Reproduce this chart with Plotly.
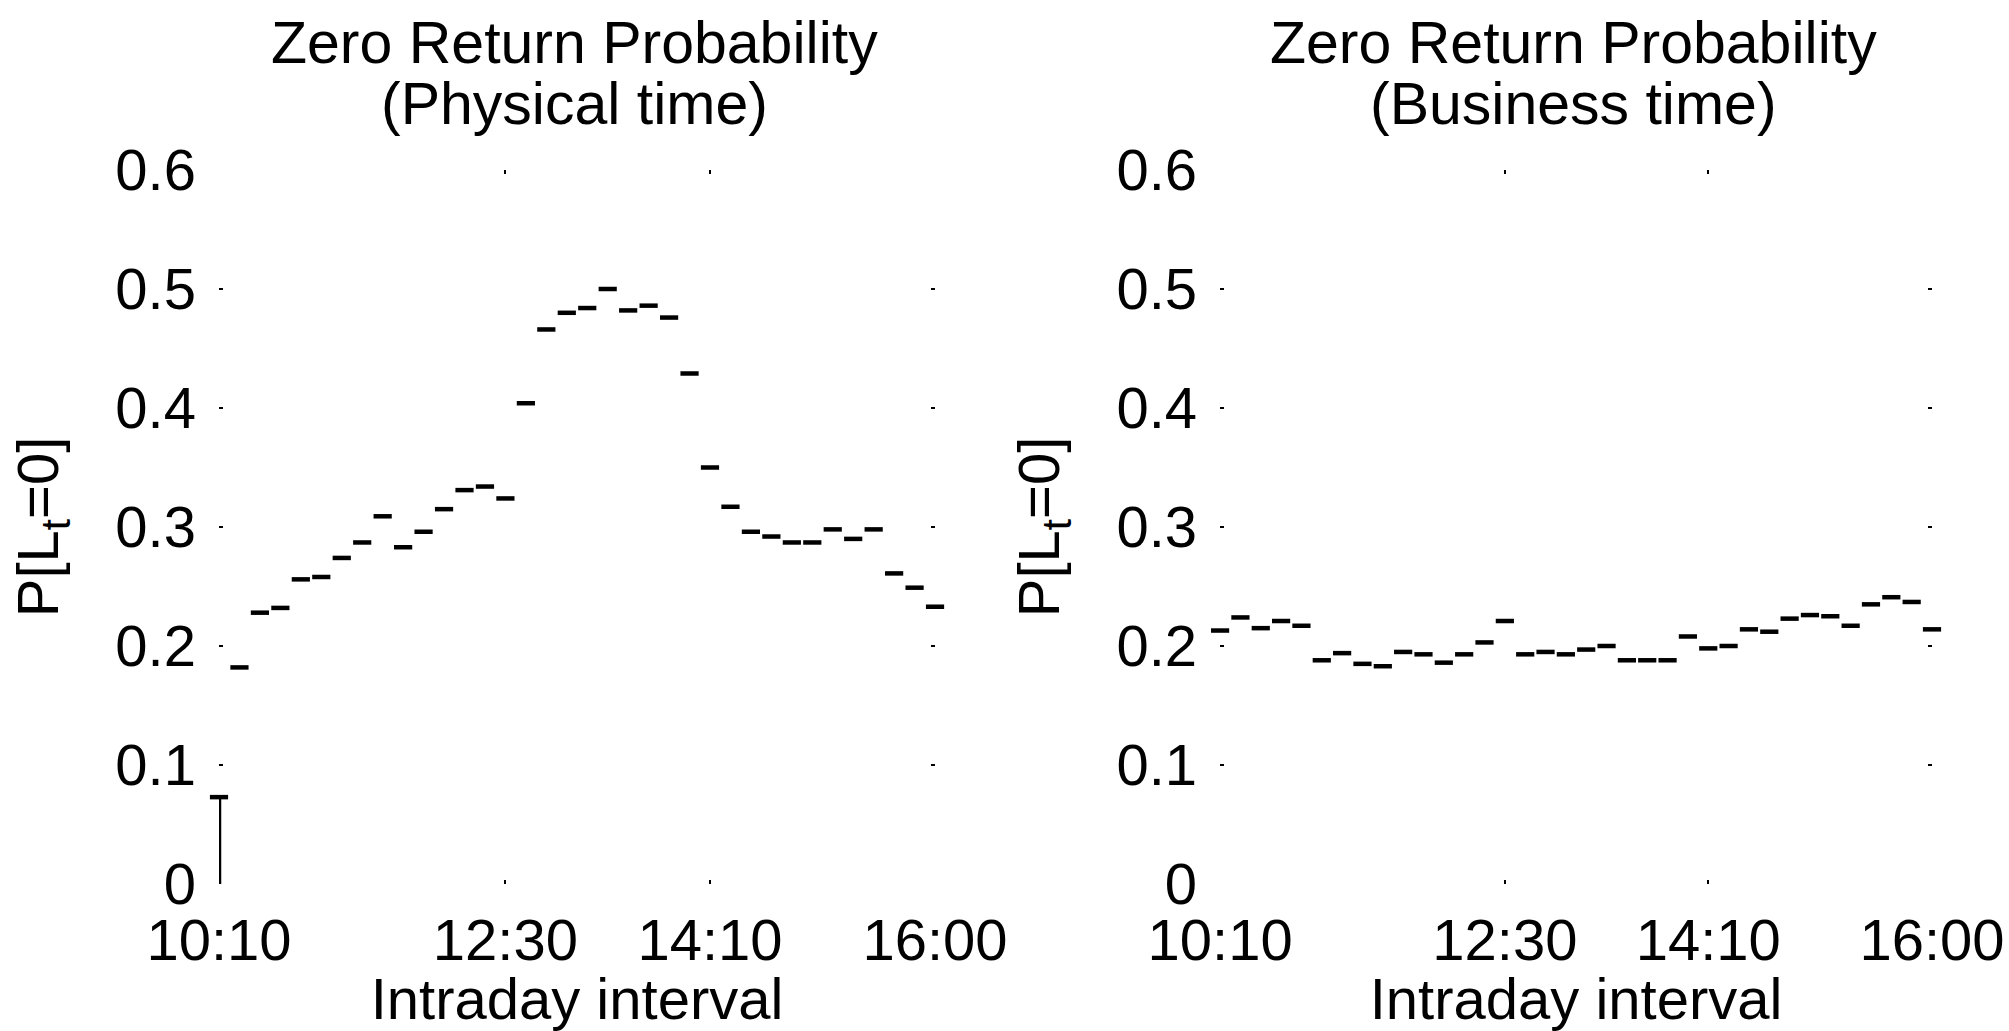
import plotly.graph_objects as go

# minutes after 10:10 for each 10-minute interval (10:10 ... 16:00)
minutes = list(range(0, 360, 10))

physical_prob = [0.073, 0.182, 0.228, 0.232, 0.256, 0.258, 0.274, 0.287, 0.309,
                 0.283, 0.296, 0.315, 0.331, 0.334, 0.324, 0.404, 0.466, 0.480,
                 0.484, 0.500, 0.482, 0.486, 0.476, 0.429, 0.350, 0.317, 0.296,
                 0.292, 0.287, 0.287, 0.298, 0.290, 0.298, 0.261, 0.249, 0.233]

business_prob = [0.213, 0.224, 0.215, 0.221, 0.217, 0.188, 0.194, 0.185, 0.183,
                 0.195, 0.193, 0.186, 0.193, 0.203, 0.221, 0.193, 0.195, 0.193,
                 0.197, 0.200, 0.188, 0.188, 0.188, 0.208, 0.198, 0.200, 0.214,
                 0.212, 0.223, 0.226, 0.225, 0.217, 0.235, 0.241, 0.237, 0.214]

tick_vals = [0, 140, 240, 350]
tick_text = ["10:10", "12:30", "14:10", "16:00"]
y_ticks = [0, 0.1, 0.2, 0.3, 0.4, 0.5, 0.6]
y_tick_text = ["0", "0.1", "0.2", "0.3", "0.4", "0.5", "0.6"]

titles = [("Zero Return Probability", "(Physical time)"),
          ("Zero Return Probability", "(Business time)")]

FONT = "Liberation Sans, Arial, sans-serif"
FS = 58

# the opening interval's value is drawn down to the axis (riser from 0)
opening_riser = [physical_prob[0]] + [0] * (len(physical_prob) - 1)

fig = go.Figure()
marker = dict(symbol="line-ew", size=13, color="black",
              line=dict(color="black", width=4.5))
fig.add_trace(go.Scatter(x=minutes, y=physical_prob, mode="markers",
                         marker=marker, xaxis="x", yaxis="y",
                         error_y=dict(type="data", symmetric=False,
                                      array=[0] * len(physical_prob),
                                      arrayminus=opening_riser,
                                      width=0, thickness=4.5, color="black"),
                         cliponaxis=False, showlegend=False))
fig.add_trace(go.Scatter(x=minutes, y=business_prob, mode="markers",
                         marker=marker, xaxis="x2", yaxis="y2",
                         cliponaxis=False, showlegend=False))

xcommon = dict(range=[0, 350], tickmode="array", tickvals=tick_vals,
               ticktext=tick_text, ticks="inside", ticklen=4, tickwidth=2,
               tickcolor="black", showline=False, mirror="ticks",
               showgrid=False, zeroline=False, ticklabelstandoff=17,
               tickfont=dict(family=FONT, size=FS, color="black"),
               title=dict(text="Intraday interval", standoff=0,
                          font=dict(family=FONT, size=FS, color="black")))
ycommon = dict(range=[0, 0.6], tickmode="array", tickvals=y_ticks,
               ticktext=y_tick_text, ticks="inside", ticklen=4, tickwidth=2,
               tickcolor="black", showline=False, mirror="ticks",
               showgrid=False, zeroline=False, ticklabelstandoff=22,
               tickfont=dict(family=FONT, size=FS, color="black"),
               title=dict(text="P[L<sub>t</sub>=0]", standoff=38,
                          font=dict(family=FONT, size=FS, color="black")))

fig.update_layout(
    width=2009, height=1031,
    margin=dict(l=219, r=77, t=170, b=147, autoexpand=False),
    paper_bgcolor="white", plot_bgcolor="white",
    xaxis=dict(domain=[0, 0.418], anchor="y", **xcommon),
    yaxis=dict(domain=[0, 1], anchor="x", **ycommon),
    xaxis2=dict(domain=[0.5844, 1], anchor="y2", **xcommon),
    yaxis2=dict(domain=[0, 1], anchor="x2", **ycommon),
)

for ax, (l1, l2) in zip(["x", "x2"], titles):
    fig.add_annotation(text=l1, xref=f"{ax} domain", yref="paper", x=0.5, y=1,
                       xshift=-3, yshift=127, yanchor="middle", showarrow=False,
                       font=dict(family=FONT, size=59, color="black"))
    fig.add_annotation(text=l2, xref=f"{ax} domain", yref="paper", x=0.5, y=1,
                       xshift=-3, yshift=66, yanchor="middle", showarrow=False,
                       font=dict(family=FONT, size=59, color="black"))

fig.write_html("out.html")
